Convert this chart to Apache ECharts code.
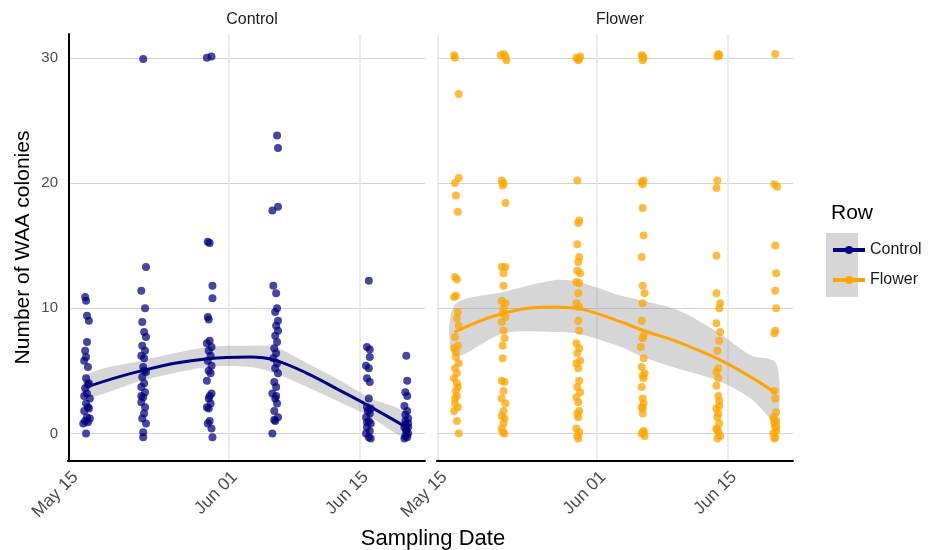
<!DOCTYPE html>
<html>
<head>
<meta charset="utf-8">
<script src="https://cdn.jsdelivr.net/npm/echarts@6/dist/echarts.min.js"></script>
<style>
  html, body { margin: 0; padding: 0; background: #fff; }
  #chart { width: 929px; height: 550px; }
</style>
</head>
<body>
<div id="chart"></div>
<script>
// days counted from May 15
var tickDays = [0, 17, 31];
var tickLabels = ['May 15', 'Jun 01', 'Jun 15'];
var yTicks = [0, 10, 20, 30];
var panels = ['Control', 'Flower'];

// jittered observations [day, colonies]
var controlPts = [
    [1.7,10.9],[1.8,10.6],[1.9,9.4],[2.1,9.0],[1.9,7.3],[1.7,6.6],[1.8,6.1],[1.6,5.8],[2.0,5.3],[1.8,4.4],[2.1,4.0],[1.7,3.6],[2.0,3.9],[1.9,3.2],[1.6,3.0],[2.2,2.8],[1.8,2.4],[2.0,2.1],[1.6,1.8],[2.1,2.0],[1.9,1.3],[1.7,1.0],[2.2,1.2],[1.5,0.8],[2.0,0.9],[1.8,0.0],
    [7.9,29.9],[8.2,13.3],[7.7,11.4],[8.1,10.0],[7.8,8.9],[8.0,8.1],[8.2,7.7],[7.8,7.0],[8.1,6.6],[7.7,6.2],[8.0,6.0],[7.9,5.3],[8.2,4.9],[7.8,4.5],[8.0,4.0],[7.7,3.7],[8.1,3.3],[7.9,2.9],[7.7,2.5],[8.1,2.1],[8.0,1.6],[7.8,1.2],[8.2,0.8],[7.9,0.1],[7.9,-0.3],[8.0,5.0],[7.7,3.0],
    [14.7,30.0],[15.2,30.1],[14.8,15.3],[15.0,15.2],[15.3,11.8],[15.3,10.8],[14.8,9.3],[14.9,9.1],[15.0,7.4],[14.7,7.2],[15.2,6.9],[14.9,6.6],[15.1,6.2],[14.8,5.8],[15.2,5.4],[14.9,5.0],[15.1,4.8],[14.7,4.2],[15.2,3.2],[14.9,2.8],[15.1,2.4],[14.7,2.1],[15.0,1.0],[14.8,0.8],[15.2,0.4],[15.3,-0.3],[14.9,2.0],[15.0,3.0],
    [22.2,23.8],[22.3,22.8],[22.3,18.1],[21.7,17.8],[21.8,11.8],[22.1,11.2],[22.2,10.0],[22.0,9.7],[22.3,9.0],[22.1,8.6],[22.3,8.2],[22.0,7.8],[22.2,7.3],[21.9,6.8],[22.1,6.4],[21.8,6.0],[22.2,5.6],[22.0,5.2],[22.3,4.8],[21.9,4.1],[22.1,3.7],[21.7,3.2],[22.0,2.8],[22.2,2.4],[21.9,1.8],[22.3,1.3],[22.0,1.0],[21.7,0.0],[22.1,3.0],[21.9,1.1],
    [32.0,12.2],[31.8,6.9],[32.1,6.7],[32.1,6.1],[31.7,5.4],[32.0,5.2],[31.8,4.4],[32.1,4.1],[32.0,2.8],[31.8,2.1],[32.1,1.6],[31.7,1.3],[32.0,1.0],[32.2,0.8],[31.8,0.5],[32.1,0.2],[31.7,0.0],[32.0,-0.3],[32.2,-0.4],[31.9,1.8],[32.2,2.0],[31.8,0.9],
    [36.0,6.2],[36.1,4.2],[35.9,3.3],[36.1,3.0],[35.8,2.2],[36.1,1.8],[35.9,1.0],[36.2,0.8],[35.8,0.5],[36.0,0.2],[36.2,0.0],[35.9,-0.2],[36.1,-0.3],[35.8,-0.4],[36.2,0.5],[36.0,0.3],[35.9,0.7],[36.2,1.2],[35.9,1.5]
];
var flowerPts = [
    [1.7,30.2],[1.8,30.0],[2.2,27.1],[2.2,20.4],[1.8,20.0],[1.9,19.0],[2.1,17.7],[1.8,12.5],[2.0,12.3],[1.9,11.0],[1.7,10.9],[2.1,9.7],[2.0,9.2],[2.2,8.6],[1.8,7.7],[2.1,7.0],[1.7,6.8],[1.9,6.1],[2.2,5.6],[1.8,5.2],[2.0,4.8],[1.7,4.4],[2.1,3.7],[1.9,3.4],[2.0,3.0],[1.8,2.4],[2.1,2.1],[1.7,1.8],[2.0,1.0],[2.2,0.0],[1.9,6.5],[2.0,4.0],[1.8,2.8],
    [6.7,30.2],[7.0,30.3],[7.2,30.1],[7.3,29.8],[6.8,20.2],[7.0,20.0],[6.9,19.8],[7.2,18.4],[6.8,13.3],[7.2,13.3],[7.0,12.8],[7.0,11.8],[6.8,10.6],[7.2,10.4],[7.0,10.0],[6.9,9.6],[7.2,9.3],[6.8,8.9],[7.0,8.2],[7.1,7.6],[6.9,7.0],[6.9,6.0],[6.8,4.2],[7.1,4.1],[7.0,3.4],[6.8,2.8],[7.2,2.4],[7.0,1.8],[6.8,1.4],[7.1,1.2],[7.0,0.8],[6.8,0.4],[7.1,0.0],[6.9,0.1],
    [14.8,30.0],[15.0,29.8],[15.2,30.1],[15.1,29.9],[14.9,20.2],[15.1,17.0],[15.0,16.8],[14.9,15.1],[15.1,14.1],[15.0,13.7],[14.9,13.0],[15.2,12.8],[14.8,12.1],[15.1,12.0],[15.0,11.2],[14.8,10.4],[15.1,10.1],[15.0,9.0],[15.1,8.2],[14.8,7.2],[15.1,6.8],[14.9,6.4],[15.2,5.8],[14.8,5.6],[15.0,5.2],[15.1,4.2],[14.9,3.7],[15.2,3.3],[14.8,2.9],[15.0,2.5],[15.1,1.8],[14.9,1.6],[15.0,1.3],[14.8,0.4],[15.1,0.1],[14.9,-0.2],[15.0,-0.4],
    [21.8,30.2],[21.9,30.1],[22.0,30.0],[21.9,29.8],[21.8,20.1],[22.0,20.2],[21.9,19.9],[21.9,18.0],[22.0,15.8],[21.8,14.1],[21.9,11.8],[22.1,11.2],[21.9,10.4],[21.8,9.0],[22.0,7.8],[21.9,7.6],[21.7,6.9],[22.0,6.0],[21.8,5.3],[22.1,4.8],[21.9,4.6],[22.0,4.4],[21.8,3.7],[21.9,2.8],[22.0,2.4],[21.8,2.1],[21.9,1.6],[22.0,0.2],[21.8,0.0],[22.1,-0.2],[21.9,2.0],[22.0,0.1],
    [30.0,30.3],[30.1,30.2],[29.9,30.1],[29.9,20.2],[29.8,19.6],[29.8,14.2],[29.8,11.2],[30.2,10.4],[30.1,10.0],[29.8,8.8],[30.2,8.1],[30.1,7.4],[29.9,6.6],[30.0,5.2],[29.8,4.9],[30.0,4.4],[29.8,3.8],[30.0,3.0],[30.1,2.2],[29.8,2.0],[30.0,1.6],[29.9,1.3],[30.1,0.8],[29.8,0.4],[30.0,0.1],[30.2,-0.2],[29.9,-0.4],[30.1,2.6],[29.9,0.3],
    [36.1,30.3],[36.0,19.9],[36.3,19.7],[36.1,15.0],[36.2,12.8],[36.1,11.4],[36.2,10.0],[36.1,8.2],[36.0,8.0],[36.0,3.4],[36.1,2.8],[36.2,1.7],[35.9,1.3],[36.2,1.0],[36.0,0.8],[36.1,0.5],[36.2,0.2],[35.9,0.0],[36.1,-0.3],[36.0,-0.4],[36.2,0.6],[36.0,1.1]
];

// loess fit and 95% band
var controlFitDays = [1.8, 7.9, 14.8, 19.3, 22.0, 25.4, 28.9, 31.9, 36.0];
var controlFit = [3.7, 5.04, 5.97, 6.1, 5.84, 4.8, 3.44, 2.24, 0.5];
var controlUpper = [4.64, 5.84, 6.9, 7.0, 6.9, 5.6, 4.24, 2.9, 1.6];
var controlLower = [2.9, 4.24, 5.3, 5.3, 4.8, 3.7, 2.5, 1.44, -0.3];

var flowerFitDays = [1.75, 7.0, 12.4, 15.0, 19.6, 21.9, 25.7, 29.9, 33.5, 36.2];
var flowerFit = [8.1, 9.6, 10.1, 9.97, 8.9, 8.24, 7.3, 5.97, 4.5, 3.2];
var flowerUpper = [10.24, 11.3, 12.24, 12.1, 11.0, 10.6, 9.84, 8.1, 6.24, 5.6];
var flowerLower = [6.2, 8.0, 8.1, 7.97, 6.9, 6.1, 5.17, 4.24, 2.78, 1.0];

var colors = ['#000080', '#FFA500'];
var font = '"Liberation Sans", Arial, sans-serif';

function pair(days, vals) {
    return days.map(function (d, i) { return [d, vals[i]]; });
}

function xAxisFor(idx) {
    return {
        type: 'value', gridIndex: idx, min: -0.13, max: 38.0,
        axisLine: { show: true, onZero: false, lineStyle: { color: '#000', width: 2 } },
        axisTick: { show: false, customValues: tickDays },
        axisLabel: {
            customValues: tickDays, rotate: 45, margin: 7,
            align: 'right', verticalAlign: 'top',
            fontSize: 17.5, color: '#4d4d4d', fontFamily: font,
            formatter: function (v) { return tickLabels[tickDays.indexOf(v)]; }
        },
        splitLine: { show: true, lineStyle: { color: '#e6e6e6', width: 1.5 } }
    };
}

function yAxisFor(idx) {
    return {
        type: 'value', gridIndex: idx, min: -2.2, max: 31.9,
        name: idx === 0 ? 'Number of WAA colonies' : '',
        nameLocation: 'middle', nameGap: 34,
        nameTextStyle: { fontSize: 21, color: '#000', fontFamily: font },
        axisLine: { show: idx === 0, lineStyle: { color: '#000', width: 2 } },
        axisTick: { show: false, customValues: yTicks },
        axisLabel: {
            show: idx === 0, customValues: yTicks, margin: 10,
            fontSize: 15, color: '#4d4d4d', fontFamily: font
        },
        splitLine: { show: true, lineStyle: { color: '#d4d4d4', width: 1 } }
    };
}

// confidence band as a smoothed polygon through the axes' coordinates
function bandSeries(idx, days, lo, hi) {
    return {
        type: 'custom', xAxisIndex: idx, yAxisIndex: idx, silent: true, z: 1,
        data: [[days[0], lo[0]]],
        renderItem: function (params, api) {
            var pts = [];
            for (var i = 0; i < days.length; i++) pts.push(api.coord([days[i], hi[i]]));
            for (var j = days.length - 1; j >= 0; j--) pts.push(api.coord([days[j], lo[j]]));
            return {
                type: 'polygon',
                shape: { points: pts, smooth: 0.3 },
                style: { fill: 'rgba(153,153,153,0.4)' }
            };
        }
    };
}

var chart = echarts.init(document.getElementById('chart'));

var series = [
    bandSeries(0, controlFitDays, controlLower, controlUpper),
    bandSeries(1, flowerFitDays, flowerLower, flowerUpper),
    {
        name: 'Control pts', type: 'scatter', xAxisIndex: 0, yAxisIndex: 0, z: 2,
        symbolSize: 8, itemStyle: { color: colors[0], opacity: 0.72 }, data: controlPts
    },
    {
        name: 'Flower pts', type: 'scatter', xAxisIndex: 1, yAxisIndex: 1, z: 2,
        symbolSize: 8, itemStyle: { color: colors[1], opacity: 0.75 }, data: flowerPts
    },
    {
        name: 'Control', type: 'line', xAxisIndex: 0, yAxisIndex: 0, z: 3,
        smooth: 0.4, symbol: 'circle', symbolSize: 8, showSymbol: false,
        itemStyle: { color: colors[0] }, lineStyle: { color: colors[0], width: 3 },
        data: pair(controlFitDays, controlFit)
    },
    {
        name: 'Flower', type: 'line', xAxisIndex: 1, yAxisIndex: 1, z: 3,
        smooth: 0.4, symbol: 'circle', symbolSize: 8, showSymbol: false,
        itemStyle: { color: colors[1] }, lineStyle: { color: colors[1], width: 3 },
        data: pair(flowerFitDays, flowerFit)
    }
];

chart.setOption({
    animation: false,
    backgroundColor: '#fff',
    textStyle: { fontFamily: font },
    grid: [
        { left: 68, top: 34, width: 357, height: 427 },
        { left: 437, top: 34, width: 356, height: 427 }
    ],
    xAxis: [xAxisFor(0), xAxisFor(1)],
    yAxis: [yAxisFor(0), yAxisFor(1)],
    title: [
        { text: panels[0], left: 247, top: 7, textAlign: 'center',
          textStyle: { fontSize: 16, fontWeight: 'normal', color: '#1a1a1a' } },
        { text: panels[1], left: 615, top: 7, textAlign: 'center',
          textStyle: { fontSize: 16, fontWeight: 'normal', color: '#1a1a1a' } },
        { text: 'Sampling Date', left: 428, top: 523, textAlign: 'center',
          textStyle: { fontSize: 22, fontWeight: 'normal', color: '#000' } },
        { text: 'Row', left: 826, top: 198,
          textStyle: { fontSize: 21, fontWeight: 'normal', color: '#000' } }
    ],
    legend: {
        data: ['Control', 'Flower'], orient: 'vertical', left: 826, top: 237,
        itemWidth: 32, itemHeight: 10, itemGap: 14, z: 5,
        lineStyle: { width: 4 },
        textStyle: { fontSize: 16, color: '#1a1a1a' }
    },
    graphic: [{
        type: 'rect', left: 826, top: 233, z: 0,
        shape: { width: 32, height: 64 },
        style: { fill: '#d6d6d6' }
    }],
    series: series
});
</script>
</body>
</html>
